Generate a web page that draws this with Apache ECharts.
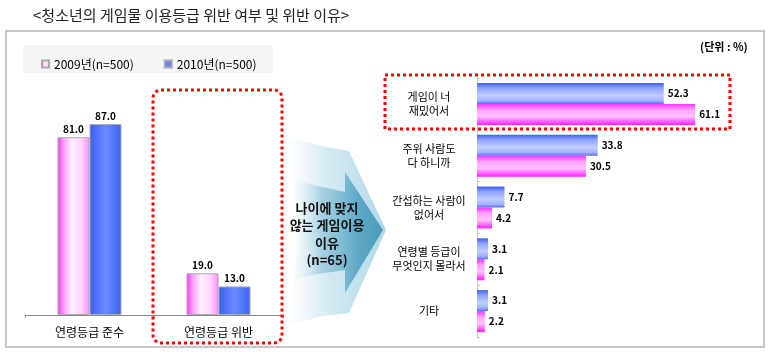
<!DOCTYPE html>
<html>
<head>
<meta charset="utf-8">
<script src="https://cdn.jsdelivr.net/npm/echarts@6/dist/echarts.min.js"></script>
<style>
  html, body { margin: 0; padding: 0; background: #fff; }
  #chart { width: 770px; height: 352px; }
</style>
</head>
<body>
<div id="chart"></div>
<script>
// 좌측: 연령등급 준수/위반 (%)
const complianceCats = ['연령등급 준수', '연령등급 위반']
const compliance2009 = [81.0, 19.0]
const compliance2010 = [87.0, 13.0]

// 우측: 위반 이유 (%)
const reasonCats = [
  '게임이 너\n재밌어서',
  '주위 사람도\n다 하니까',
  '간섭하는 사람이\n없어서',
  '연령별 등급이\n무엇인지 몰라서',
  '기타'
]
const reason2010 = [52.3, 33.8, 7.7, 3.1, 3.1]
const reason2009 = [61.1, 30.5, 4.2, 2.1, 2.2]

const name2009 = '2009년(n=500)'
const name2010 = '2010년(n=500)'
const FONT = '"Noto Sans CJK KR", "Noto Sans", sans-serif'

const grad = (x2, y2, stops) =>
  new echarts.graphic.LinearGradient(0, 0, x2, y2, stops.map(([offset, color]) => ({ offset, color })))

// vertical bars: left-to-right shading
const pinkV = grad(1, 0, [[0, '#ff2cff'], [0.18, '#ff9cff'], [0.45, '#fff0ff'], [0.75, '#ffd4ff'], [1, '#ff8cff']])
const blueV = grad(1, 0, [[0, '#3a5ef5'], [0.5, '#6a8cff'], [1, '#3d62f0']])
// horizontal bars: top-to-bottom shading
const blueH = grad(0, 1, [[0, '#3f5ff5'], [0.25, '#8ea4ff'], [0.6, '#c3cdff'], [0.85, '#a0b2ff'], [1, '#4f6ef8']])
const pinkH = grad(0, 1, [[0, '#ff30ff'], [0.3, '#ffa8ff'], [0.6, '#ffc0ff'], [1, '#ff20ff']])

const fmt = (p) => p.value.toFixed(1)

const chart = echarts.init(document.getElementById('chart'))

chart.setOption({
  backgroundColor: '#fff',
  animation: false,
  textStyle: { fontFamily: FONT },
  title: {
    text: '<청소년의 게임물 이용등급 위반 여부 및 위반 이유>',
    left: 28,
    top: 3,
    textStyle: { fontSize: 15, fontWeight: 'normal', color: '#222', fontFamily: FONT }
  },
  legend: {
    data: [name2009, name2010],
    left: 36,
    top: 53,
    itemWidth: 7,
    itemHeight: 7,
    itemGap: 30,
    icon: 'rect',
    textStyle: { fontSize: 12, color: '#000', fontFamily: FONT }
  },
  grid: [
    { left: 25, top: 95.5, width: 258, height: 219.5 },
    { left: 477, top: 78, width: 250, height: 259 }
  ],
  xAxis: [
    {
      gridIndex: 0,
      type: 'category',
      data: complianceCats,
      axisLine: { lineStyle: { color: '#888' } },
      axisTick: { show: true, length: 3, lineStyle: { color: '#888' } },
      axisLabel: { fontSize: 12, color: '#000', margin: 11, fontFamily: FONT }
    },
    {
      gridIndex: 1,
      type: 'value',
      min: 0,
      max: 70,
      show: false
    }
  ],
  yAxis: [
    { gridIndex: 0, type: 'value', min: 0, max: 100, show: false },
    {
      gridIndex: 1,
      type: 'category',
      data: reasonCats,
      inverse: true,
      axisLine: { lineStyle: { color: '#c4c4c4' } },
      axisTick: { show: true, inside: true, length: 3, lineStyle: { color: '#c4c4c4' } },
      axisLabel: {
        fontSize: 11,
        color: '#000',
        align: 'center',
        margin: 48,
        lineHeight: 14,
        fontFamily: FONT
      }
    }
  ],
  series: [
    {
      name: name2009,
      type: 'bar',
      xAxisIndex: 0,
      yAxisIndex: 0,
      data: compliance2009,
      barWidth: 32,
      barGap: '0%',
      itemStyle: { color: pinkV, borderColor: '#aaa', borderWidth: 1 },
      label: { show: true, position: 'top', distance: 3, formatter: fmt, fontSize: 10, fontWeight: 'bold', color: '#000' }
    },
    {
      name: name2010,
      type: 'bar',
      xAxisIndex: 0,
      yAxisIndex: 0,
      data: compliance2010,
      barWidth: 32,
      barGap: '0%',
      itemStyle: { color: blueV, borderColor: '#aaa', borderWidth: 1 },
      label: { show: true, position: 'top', distance: 3, formatter: fmt, fontSize: 10, fontWeight: 'bold', color: '#000' }
    },
    {
      name: name2010,
      type: 'bar',
      xAxisIndex: 1,
      yAxisIndex: 1,
      data: reason2010,
      barGap: '0%',
      barCategoryGap: '19%',
      itemStyle: { color: blueH },
      label: { show: true, position: 'right', distance: 4, formatter: fmt, fontSize: 10, fontWeight: 'bold', color: '#000' }
    },
    {
      name: name2009,
      type: 'bar',
      xAxisIndex: 1,
      yAxisIndex: 1,
      data: reason2009,
      barGap: '0%',
      barCategoryGap: '19%',
      itemStyle: { color: pinkH },
      label: { show: true, position: 'right', distance: 4, formatter: fmt, fontSize: 10, fontWeight: 'bold', color: '#000' }
    }
  ],
  graphic: [
    // outer frame
    { type: 'rect', z: -10, shape: { x: 6, y: 31, width: 758, height: 316 },
      style: { fill: 'none', stroke: '#c8c8c8', lineWidth: 2 } },
    // legend background
    { type: 'rect', z: -9, shape: { x: 23, y: 45, width: 250, height: 28 },
      style: { fill: '#f5f5f5' } },
    // arrow: faint outer layer
    { type: 'polygon', z: -5,
      shape: { points: [[286, 136], [322, 146], [349, 151], [386, 230], [349, 313], [322, 316], [288, 326], [300, 230]] },
      style: { fill: grad(1, 0, [[0, 'rgba(210,234,243,0)'], [0.45, 'rgba(190,224,236,0.7)'], [1, '#b2d8e6']]) } },
    // arrow: main layer
    { type: 'polygon', z: -4,
      shape: { points: [[288, 178], [318, 186], [345, 192], [345, 172], [383, 230], [345, 293], [345, 270], [318, 274], [288, 280]] },
      style: { fill: grad(1, 0, [[0, 'rgba(255,255,255,0)'], [0.35, 'rgba(150,200,220,0.75)'], [0.75, '#5ca8c6'], [1, '#4b9bbb']]) } },
    // arrow text
    { type: 'text', z: 5, x: 327, y: 199,
      style: {
        text: '나이에 맞지\n않는 게임이용\n이유\n(n=65)',
        align: 'center',
        verticalAlign: 'top',
        lineHeight: 17.5,
        fill: '#111',
        font: 'bold 13px ' + FONT
      } },
    // dotted highlight around 위반
    { type: 'rect', z: 10, shape: { x: 153, y: 90, width: 129, height: 253, r: 8 },
      style: { fill: 'none', stroke: '#ff0000', lineWidth: 3, lineDash: [3, 3] } },
    // dotted highlight around top reason
    { type: 'rect', z: 10, shape: { x: 385, y: 75, width: 345, height: 54 },
      style: { fill: 'none', stroke: '#ff0000', lineWidth: 3, lineDash: [3, 3] } },
    // unit
    { type: 'text', left: 700, top: 41,
      style: { text: '(단위 : %)', font: 'bold 11px ' + FONT, fill: '#000' } }
  ]
})
</script>
</body>
</html>
